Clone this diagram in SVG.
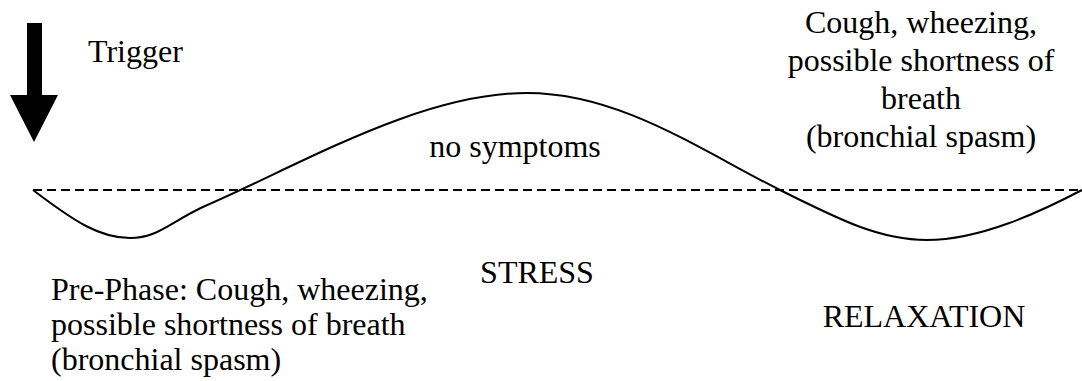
<svg xmlns="http://www.w3.org/2000/svg" width="1082" height="381" viewBox="0 0 1082 381">
<style>
  .curve { fill: none; stroke: #000; stroke-width: 2; }
  .base { fill: none; stroke: #000; stroke-width: 2; stroke-dasharray: 9 5; }
</style>
<rect width="1082" height="381" fill="#fff"/>
<g id="connectors">
  <line class="base" x1="33" y1="190" x2="1082" y2="190"/>
  <path class="curve" d="M33,190 C75,222 100,238 130,238 C158,238 170,222 205,206 C300,165 420,93 527,93 C620,93 700,150 780,190 C840,220 880,240 927,240 C980,240 1040,212 1082,190"/>
</g>
<g font-family="Liberation Serif, Times New Roman, serif" font-size="32" fill="#000">
<g id="trigger">
  <polygon points="27,23 42,23 42,95 58,95 34,142 10,95 27,95" fill="#000"/>
  <text x="88" y="62">Trigger</text>
</g>
<g id="no-symptoms">
  <text x="515" y="157" text-anchor="middle">no symptoms</text>
</g>
<g id="stress">
  <text x="537" y="283" text-anchor="middle">STRESS</text>
</g>
<g id="relaxation">
  <text x="924" y="327" text-anchor="middle">RELAXATION</text>
</g>
<g id="pre-phase">
  <text x="51" y="300">Pre-Phase: Cough, wheezing,</text>
  <text x="51" y="335">possible shortness of breath</text>
  <text x="51" y="370">(bronchial spasm)</text>
</g>
<g id="attack">
  <text x="921" y="33" text-anchor="middle">Cough, wheezing,</text>
  <text x="921" y="71" text-anchor="middle">possible shortness of</text>
  <text x="921" y="109" text-anchor="middle">breath</text>
  <text x="921" y="147" text-anchor="middle">(bronchial spasm)</text>
</g>
</g>
</svg>
